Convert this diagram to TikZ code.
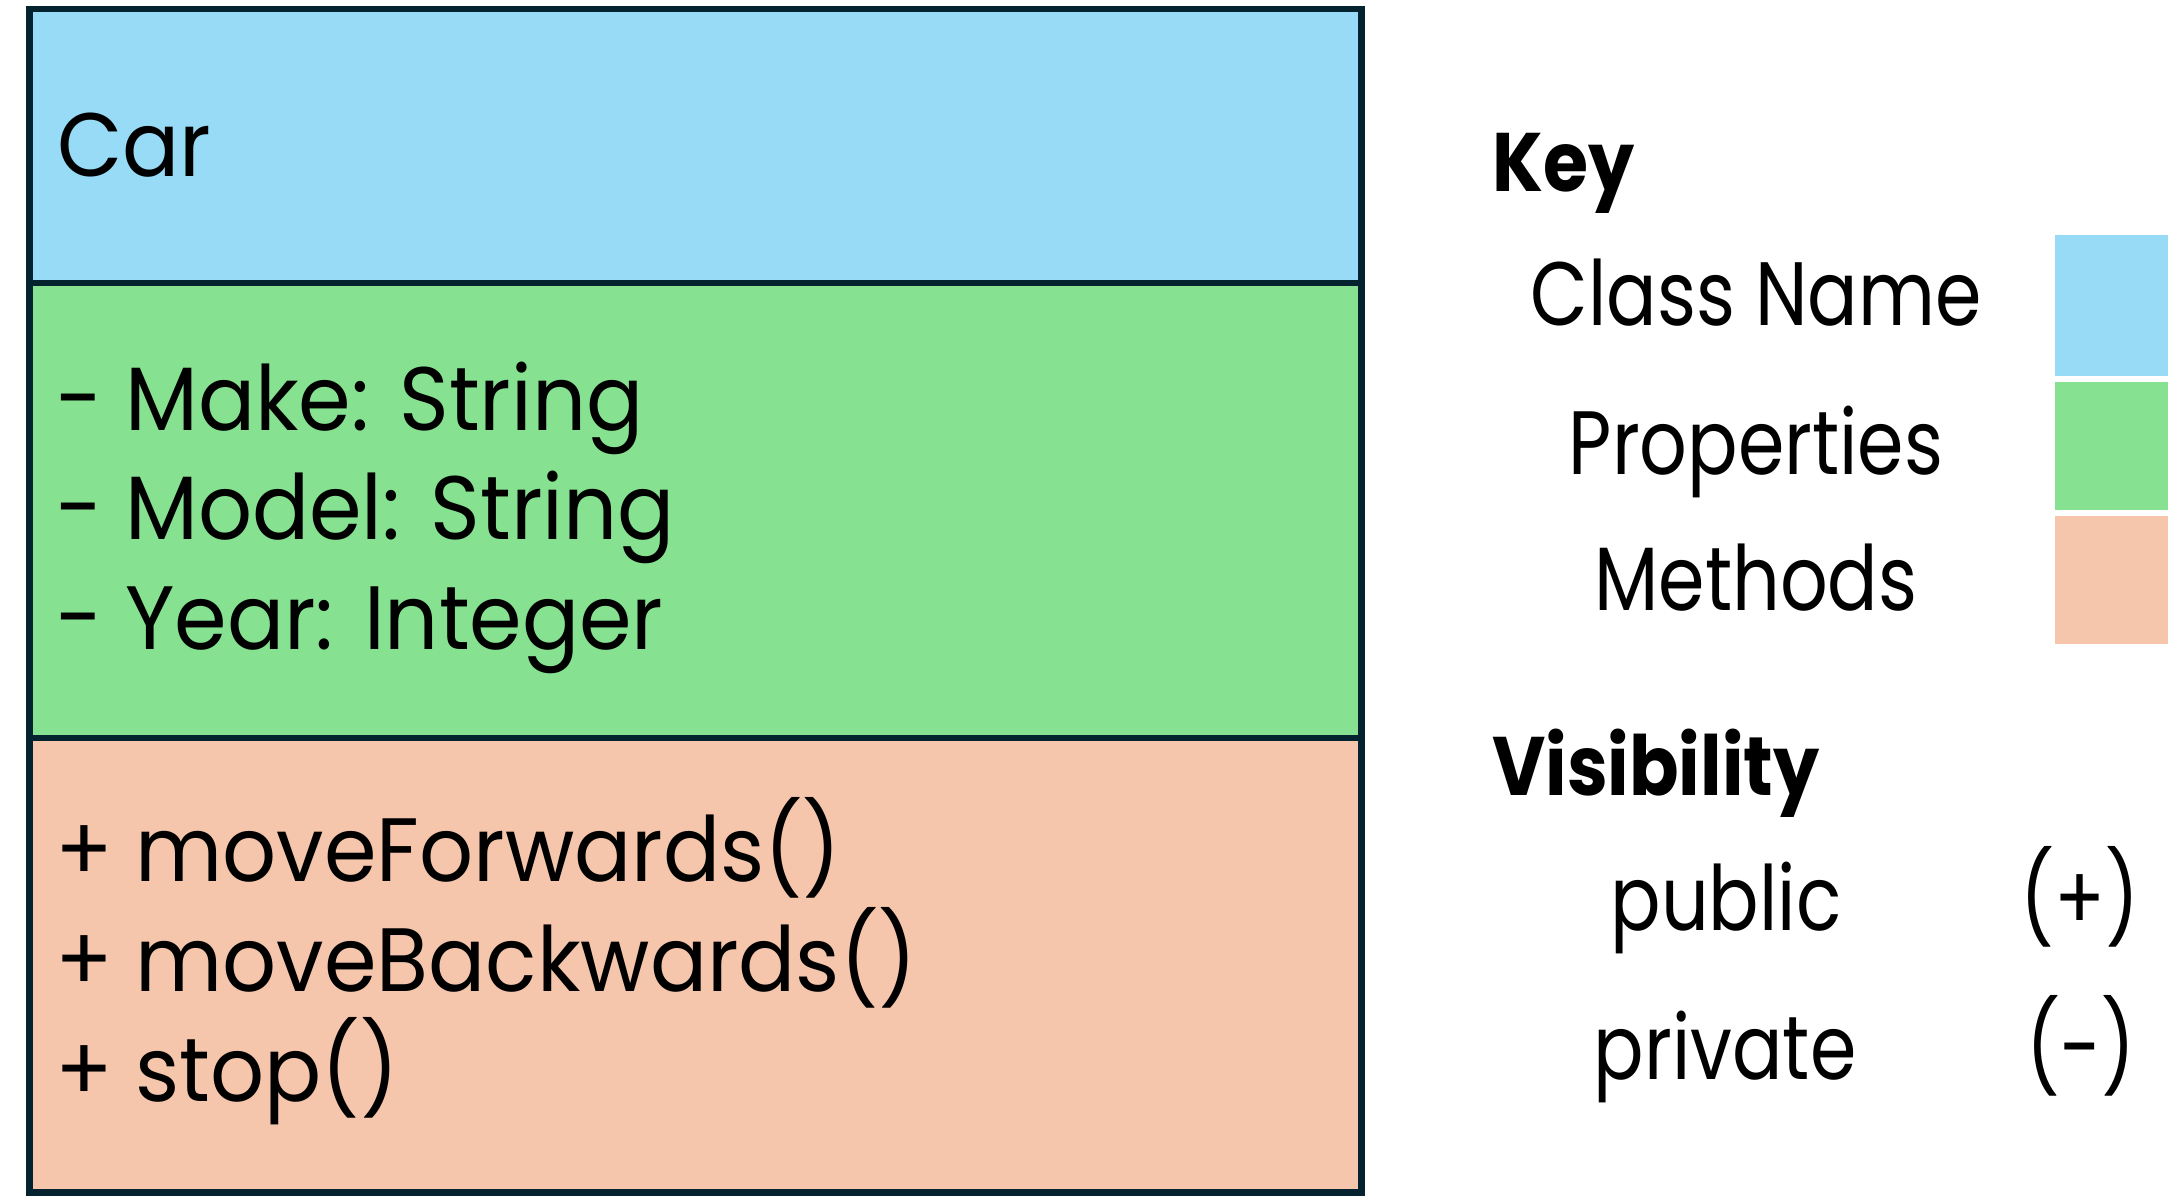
\documentclass[tikz,border=0pt]{standalone}
\usepackage{fontspec}
\setmainfont{Poppins}[FakeStretch=0.88]
\newfontfamily\boxfont{Poppins}[FakeStretch=0.94]
\newfontfamily\keyfont{Poppins}[FakeStretch=0.83]
\definecolor{cblue}{HTML}{97DBF7}
\definecolor{cgreen}{HTML}{86E291}
\definecolor{corange}{HTML}{F5C6AC}
\definecolor{cborder}{HTML}{05222F}
\tikzset{
  compart/.style={draw=cborder, line width=6.5pt, rectangle, inner sep=0pt, minimum width=1332pt, anchor=north west},
  swatch/.style={rectangle, inner sep=0pt, minimum width=113pt, anchor=north west, draw=none},
  boxtext/.style={anchor=base west, inner sep=0pt, font=\boxfont\fontsize{90}{110}\selectfont},
  keytext/.style={anchor=base, inner sep=0pt, font=\keyfont\fontsize{90}{110}\selectfont},
  keyhead/.style={anchor=base west, inner sep=0pt, font=\fontsize{83}{100}\selectfont\bfseries},
}
\begin{document}
\begin{tikzpicture}[x=1pt,y=-1pt]
\useasboundingbox (0,0) rectangle (2181,1196);
% class box
\node[compart, fill=cblue, minimum height=273.5pt] (name) at (26,6) {};
\node[compart, fill=cgreen, minimum height=455pt] (props) at (26,279.5) {};
\node[compart, fill=corange, minimum height=454.5pt] (meths) at (26,734.5) {};
\node[boxtext] (car) at (57,176) {Car};
\node[boxtext] (p1) at (56,430) {- Make: String};
\node[boxtext] (p2) at (56,539) {- Model: String};
\node[boxtext] (p3) at (56,649) {- Year: Integer};
\node[boxtext] (m1) at (55,881) {+ moveForwards()};
\node[boxtext] (m2) at (55,991) {+ moveBackwards()};
\node[boxtext] (m3) at (55,1101) {+ stop()};
% key
\node[keyhead] (key) at (1492,191) {Key};
\node[keytext] (kc) at (1756,325) {Class Name};
\node[keytext] (kp) at (1756,474) {Properties};
\node[keytext] (km) at (1756,610) {Methods};
\node[swatch, fill=cblue, minimum height=141pt] (sb) at (2055,235) {};
\node[swatch, fill=cgreen, minimum height=128pt] (sg) at (2055,382) {};
\node[swatch, fill=corange, minimum height=128pt] (so) at (2055,516) {};
% visibility
\node[keyhead] (vis) at (1492,795) {Visibility};
\node[keytext] (pub) at (1726,930) {public};
\node[keytext] (pubs) at (2080,930) {(+)};
\node[keytext] (pri) at (1725,1079) {private};
\node[keytext] (pris) at (2081,1079) {(-)};
\end{tikzpicture}
\end{document}
